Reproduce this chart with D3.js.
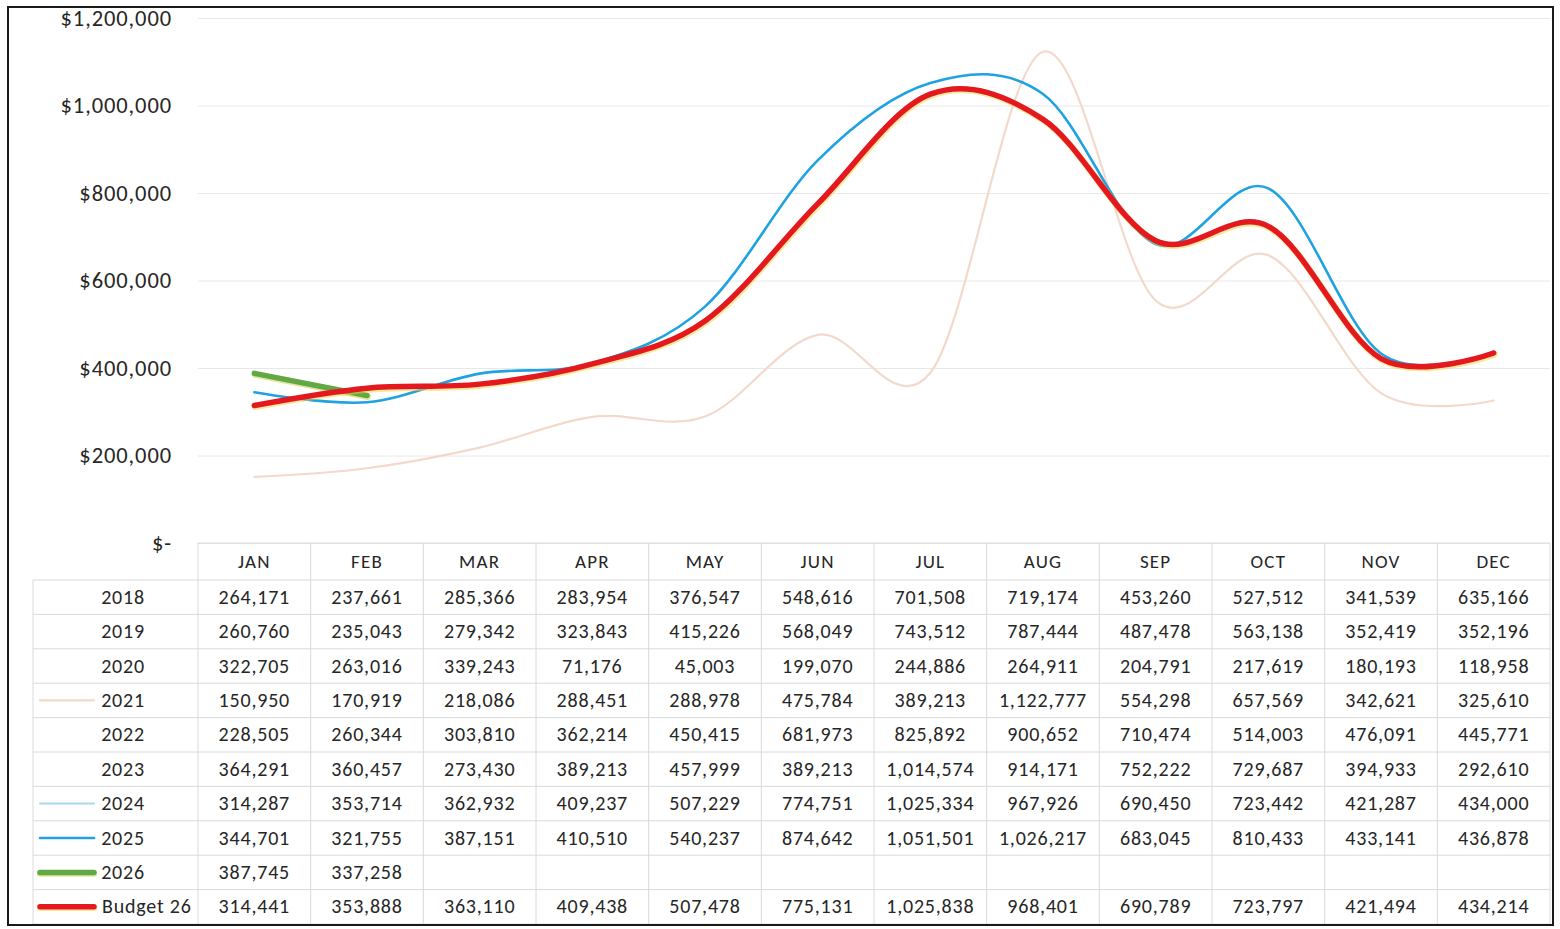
<!DOCTYPE html>
<html><head><meta charset="utf-8">
<script src="https://cdn.jsdelivr.net/npm/d3@7"></script>
<style>
html,body{margin:0;padding:0;background:#fff;}
svg{display:block;font-family:Carlito,Lato,"Open Sans",sans-serif;}
</style></head>
<body>
<svg id="chart" width="1560" height="929"></svg>
<script>
const months = ["JAN","FEB","MAR","APR","MAY","JUN","JUL","AUG","SEP","OCT","NOV","DEC"];
const seriesNames = ["2018","2019","2020","2021","2022","2023","2024","2025","2026","Budget 26"];
const v2018 = [264171,237661,285366,283954,376547,548616,701508,719174,453260,527512,341539,635166];
const v2019 = [260760,235043,279342,323843,415226,568049,743512,787444,487478,563138,352419,352196];
const v2020 = [322705,263016,339243,71176,45003,199070,244886,264911,204791,217619,180193,118958];
const v2021 = [150950,170919,218086,288451,288978,475784,389213,1122777,554298,657569,342621,325610];
const v2022 = [228505,260344,303810,362214,450415,681973,825892,900652,710474,514003,476091,445771];
const v2023 = [364291,360457,273430,389213,457999,389213,1014574,914171,752222,729687,394933,292610];
const v2024 = [314287,353714,362932,409237,507229,774751,1025334,967926,690450,723442,421287,434000];
const v2025 = [344701,321755,387151,410510,540237,874642,1051501,1026217,683045,810433,433141,436878];
const v2026 = [387745,337258];
const vBudget = [314441,353888,363110,409438,507478,775131,1025838,968401,690789,723797,421494,434214];
const yTicks = [0,200000,400000,600000,800000,1000000,1200000];

const allValues = [v2018,v2019,v2020,v2021,v2022,v2023,v2024,v2025,v2026,vBudget];
const styles = {
  "2018": null, "2019": null, "2020": null,
  "2021": {color:"#f3d9cc", width:2.2},
  "2022": null, "2023": null,
  "2024": {color:"#a9d6ef", width:2},
  "2025": {color:"#1ea2e2", width:2.6},
  "2026": {color:"#62a845", width:5.5, edge:"#c8cf3a"},
  "Budget 26": {color:"#e3191f", width:5.5, edge:"#f0d23a"}
};
const textColor = "#262626";

const svg = d3.select("#chart");
const pL = 198, pR = 1550, pT = 18, pB = 543;
const x = d3.scaleBand().domain(months).range([pL, pR]);
const y = d3.scaleLinear().domain([0,1200000]).range([pB, pT]);
const fmt = d3.format(",");

svg.append("g").attr("transform",`translate(${pL},0)`)
  .call(d3.axisLeft(y).tickValues(yTicks).tickSize(-(pR-pL)).tickFormat(""))
  .call(g=>g.select(".domain").remove())
  .call(g=>g.selectAll("line").attr("stroke","#e8e8e8").attr("stroke-width",1));

svg.append("g").attr("transform",`translate(172,0)`)
  .call(d3.axisLeft(y).tickValues(yTicks).tickSize(0).tickPadding(0)
    .tickFormat(d => d===0 ? "$-" : "$"+fmt(d)))
  .call(g=>g.select(".domain").remove())
  .call(g=>g.selectAll("text").attr("font-size",22.5).attr("fill",textColor)
     .attr("letter-spacing","0.9px")
     .attr("font-family","Carlito,Lato,'Open Sans',sans-serif"));

const line = d3.line()
  .x((d,i)=>x(months[i]) + x.bandwidth()/2)
  .y(d=>y(d))
  .curve(d3.curveCardinal.tension(0));

const lineG = svg.append("g");
seriesNames.forEach((name, k) => {
  const st = styles[name];
  if (!st) return;
  if (st.edge) {
    lineG.append("path").datum(allValues[k]).attr("d", line)
      .attr("fill","none").attr("stroke",st.edge).attr("stroke-width",st.width+1.2)
      .attr("stroke-linecap","round").attr("stroke-opacity",0.5)
      .attr("transform","translate(0.8,1.2)");
  }
  lineG.append("path").datum(allValues[k]).attr("d", line)
    .attr("fill","none").attr("stroke",st.color).attr("stroke-width",st.width)
    .attr("stroke-linecap","round").attr("stroke-linejoin","round");
});

const tableTop = pB, headerH = 37, rowsTop = 580, rowH = 34.4;
const labelLeft = 33;
const tg = svg.append("g");
const gridColor = "#dadada";
tg.selectAll("text.hdr").data(months).join("text").attr("class","hdr")
  .attr("x", d=>x(d)+x.bandwidth()/2).attr("y", tableTop+headerH/2+6.5)
  .attr("text-anchor","middle").attr("font-size",19).attr("letter-spacing","1.2px")
  .attr("fill",textColor).text(d=>d);
const hLines = d3.range(seriesNames.length+1).map(i=>rowsTop + i*rowH);
tg.append("line").attr("x1",pL).attr("x2",pR).attr("y1",tableTop).attr("y2",tableTop)
  .attr("stroke",gridColor);
tg.selectAll("line.h").data(hLines).join("line").attr("class","h")
  .attr("x1",labelLeft).attr("x2",pR).attr("y1",d=>d).attr("y2",d=>d)
  .attr("stroke",gridColor).attr("stroke-width",1);
const vX = months.map(m=>x(m)).concat([pR]);
tg.selectAll("line.v").data(vX).join("line").attr("class","v")
  .attr("x1",d=>d).attr("x2",d=>d).attr("y1",tableTop).attr("y2",rowsTop+seriesNames.length*rowH)
  .attr("stroke",gridColor);
tg.append("line").attr("x1",labelLeft).attr("x2",labelLeft).attr("y1",rowsTop).attr("y2",rowsTop+seriesNames.length*rowH)
  .attr("stroke",gridColor);
seriesNames.forEach((name,k)=>{
  const cy = rowsTop + k*rowH + rowH/2;
  const st = styles[name];
  if (st) {
    if (st.edge) {
      tg.append("line").attr("x1",40).attr("x2",94).attr("y1",cy+1).attr("y2",cy+1)
        .attr("stroke",st.edge).attr("stroke-width",st.width+1).attr("stroke-linecap","round").attr("stroke-opacity",0.5);
    }
    tg.append("line").attr("x1",40).attr("x2",94).attr("y1",cy).attr("y2",cy)
      .attr("stroke",st.color).attr("stroke-width",st.width).attr("stroke-linecap","round");
  }
  tg.append("text")
    .attr("x", name==="Budget 26" ? 102 : 123)
    .attr("y", cy+6.5)
    .attr("text-anchor", name==="Budget 26" ? "start" : "middle")
    .attr("font-size",20).attr("letter-spacing","0.8px").attr("fill",textColor).text(name);
  tg.selectAll(null).data(allValues[k]).join("text")
    .attr("x",(d,i)=>x(months[i])+x.bandwidth()/2)
    .attr("y",cy+6.5)
    .attr("text-anchor","middle").attr("font-size",20).attr("letter-spacing","0.8px").attr("fill",textColor)
    .text(d=>fmt(d));
});

svg.append("rect").attr("x",8).attr("y",7).attr("width",1545).attr("height",918)
  .attr("fill","none").attr("stroke","#1a1a1a").attr("stroke-width",2);
</script>
</body></html>
